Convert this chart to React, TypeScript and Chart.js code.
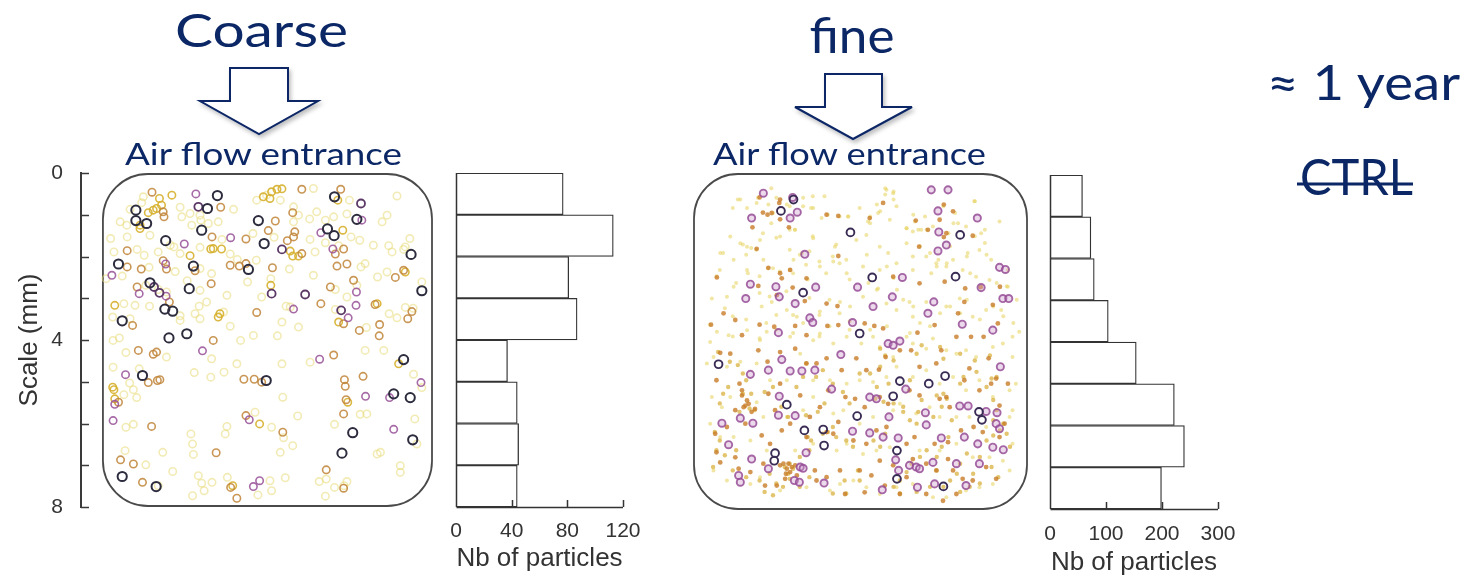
import React, { useEffect, useRef } from 'react';
import { Chart, registerables } from 'chart.js';

Chart.register(...registerables);
Chart.defaults.font.family = "'Liberation Sans', Arial, sans-serif";

// ---------------- data ----------------
const binLabels = ['0-1', '1-2', '2-3', '3-4', '4-5', '5-6', '6-7', '7-8'];
const coarseCounts = [77, 113, 81, 87, 37, 44, 45, 44];
const fineCounts = [58, 73, 79, 104, 154, 222, 240, 199];
const coarseTicks = [0, 40, 80, 120];
const fineTicks = [0, 100, 200, 300];
const depthLabels = [0, 4, 8];
const depthTicks = [0, 1, 2, 3, 4, 5, 6, 7, 8];

// coarse particles, [x mm, depth mm]
const coarseDark = [
  [2.79, 0.54], [2.55, 0.85], [0.82, 0.89], [5.62, 0.57], [0.82, 1.14], [1.08, 1.21], [2.41, 1.37], [1.54, 1.62],
  [3.92, 1.69], [5.45, 1.34], [5.61, 1.5], [7.47, 1.95], [0.4, 2.18], [2.21, 2.23], [3.54, 2.31], [7.73, 2.82],
  [1.16, 2.63], [2.11, 2.77], [1.52, 3.26], [1.71, 3.31], [0.49, 3.54], [1.62, 3.95], [2.05, 3.85], [0.98, 4.85],
  [3.97, 4.97], [7.29, 4.47], [7.05, 5.29], [7.45, 5.38], [6.06, 6.22], [7.51, 6.39], [5.8, 6.71], [0.49, 7.27],
  [1.31, 7.51], [6.16, 1.11], [3.78, 1.14],
];
const coarsePlum = [
  [2.33, 0.81], [6.26, 0.73], [4.35, 1.83], [4.1, 2.89], [4.91, 2.91], [5.78, 3.29], [1.26, 2.73], [1.39, 2.87],
];
const coarsePurple = [
  [2.27, 0.5], [6.28, 1.13], [1.99, 1.7], [3.11, 1.55], [5.29, 1.43], [5.58, 1.82], [0.24, 2.45], [1.54, 2.18],
  [0.9, 2.89], [1.55, 2.95], [4.63, 3.26], [5.95, 3.47], [6.14, 3.17], [6.15, 2.85], [0.57, 4.83], [2.43, 4.26],
  [5.26, 4.46], [7.71, 5.02], [0.31, 5.54], [6.37, 5.35], [6.95, 5.38], [7.05, 6.14], [3.56, 5.91], [0.27, 5.93],
  [3.66, 7.51], [3.81, 7.37],
];
const coarseBrown = [
  [1.21, 0.46], [1.48, 0.93], [1.5, 1.05], [2.87, 0.82], [4.61, 0.95], [4.83, 0.39], [5.77, 0.39], [4.19, 1.15],
  [2.66, 1.53], [3.48, 1.58], [4.02, 1.38], [4.48, 1.62], [4.63, 1.53], [4.66, 1.41], [0.61, 1.86], [4.83, 1.93],
  [5.64, 1.94], [5.84, 1.82], [0.61, 2.25], [0.95, 2.3], [1.48, 2.1], [1.56, 2.3], [2.25, 2.34], [3.1, 2.21],
  [3.32, 2.23], [3.48, 2.17], [4.12, 2.27], [5.68, 2.23], [5.92, 2.18], [6.08, 2.57], [7.09, 2.5], [7.29, 2.33],
  [1.63, 3.09], [0.85, 2.73], [2.64, 2.65], [5.52, 2.73], [3.74, 3.34], [5.29, 3.13], [6.6, 3.15], [7.49, 3.32],
  [7.39, 3.49], [6.22, 3.77], [6.71, 3.63], [6.7, 3.9], [0.74, 3.65], [0.88, 4.25], [1.24, 4.34], [1.32, 4.29],
  [2.69, 4.01], [5.84, 3.61], [5.6, 4.36], [1.12, 5.02], [1.34, 4.97], [1.4, 4.95], [3.43, 4.94], [3.68, 4.94],
  [3.86, 5.01], [5.86, 4.95], [5.88, 5.11], [6.31, 4.87], [0.4, 5.49], [5.9, 5.43], [5.84, 5.77], [3.48, 5.81],
  [4.37, 6.21], [2.76, 6.7], [1.2, 6.07], [0.45, 6.87], [0.76, 6.97], [0.98, 7.41], [3.11, 7.53], [3.26, 7.79],
  [5.42, 7.11], [5.84, 7.55],
];
const coarseGold = [
  [1.39, 0.61], [1.69, 0.53], [1.12, 0.95], [1.24, 0.89], [1.32, 0.85], [1.44, 0.77], [3.9, 0.57], [4.1, 0.45],
  [4.23, 0.39], [4.35, 0.38], [4.06, 0.61], [5.7, 0.65], [0.92, 1.25], [0.92, 1.33], [5.82, 1.37], [2.13, 1.98],
  [2.63, 1.82], [2.69, 1.81], [2.89, 1.82], [4.55, 1.87], [4.61, 1.99], [4.75, 1.99], [4.08, 2.69], [2.85, 3.37],
  [2.81, 3.45], [6.65, 3.13], [0.26, 5.13], [0.29, 5.19], [0.31, 5.41], [5.94, 5.49], [7.17, 4.57], [3.81, 6.01],
  [3.16, 7.49], [5.72, 3.57], [0.31, 3.17], [7.33, 2.37],
];
const coarseLight = [
  [1.0, 0.57], [0.68, 0.87], [0.96, 0.71], [1.89, 0.82], [1.93, 1.05], [2.13, 0.97], [2.17, 1.25], [2.37, 1.01],
  [2.39, 1.13], [2.57, 1.21], [2.81, 1.17], [3.18, 0.87], [3.74, 0.65], [3.98, 0.53], [4.31, 0.65], [5.11, 0.37],
  [4.63, 0.81], [4.75, 1.01], [5.98, 0.65], [7.13, 0.55], [6.89, 1.01], [6.77, 1.17], [5.92, 0.98], [5.6, 1.05],
  [5.4, 1.13], [5.02, 1.1], [4.63, 1.17], [5.19, 0.93], [0.44, 1.17], [0.6, 1.25], [0.21, 1.57], [0.61, 1.53],
  [1.16, 1.49], [1.74, 1.77], [2.9, 1.59], [3.65, 1.45], [4.16, 1.54], [5.03, 1.59], [6.02, 1.53], [6.23, 1.61],
  [6.56, 1.73], [6.93, 1.74], [7.33, 1.77], [7.44, 1.57], [7.29, 1.83], [7.01, 1.89], [0.29, 1.89], [0.85, 1.83],
  [1.02, 1.97], [1.36, 1.89], [1.65, 1.73], [1.89, 1.93], [2.37, 1.78], [3.1, 1.94], [3.27, 2.07], [5.15, 1.89],
  [5.4, 1.67], [5.72, 1.74], [0.49, 2.47], [0.1, 2.53], [1.14, 2.26], [1.77, 2.36], [2.37, 2.29], [2.65, 2.41],
  [3.73, 2.09], [4.08, 2.53], [4.53, 2.3], [5.11, 2.45], [6.26, 2.25], [6.36, 2.17], [6.66, 2.49], [6.89, 2.37],
  [7.73, 2.61], [1.06, 2.69], [1.36, 2.79], [1.56, 2.85], [2.06, 2.58], [2.37, 2.81], [3.02, 2.93], [3.52, 2.61],
  [3.86, 2.97], [5.64, 2.79], [6.16, 2.69], [5.92, 2.97], [0.53, 3.13], [0.8, 3.17], [1.15, 3.19], [1.89, 3.42],
  [2.25, 3.37], [2.35, 3.19], [2.53, 3.09], [2.94, 3.33], [3.1, 3.67], [4.45, 3.19], [4.55, 3.21], [5.64, 3.27],
  [6.94, 3.37], [7.13, 3.47], [7.33, 3.22], [7.52, 3.24], [6.39, 3.7], [0.26, 3.45], [0.68, 3.49], [0.27, 4.01],
  [0.42, 3.95], [0.58, 4.3], [1.56, 4.41], [1.89, 3.53], [2.37, 3.49], [3.35, 4.01], [3.66, 3.89], [4.24, 3.9],
  [4.35, 3.57], [4.75, 3.69], [6.81, 4.25], [6.36, 4.25], [0.27, 4.65], [0.67, 5.03], [0.9, 4.69], [2.23, 4.78],
  [2.65, 4.45], [2.63, 4.89], [2.95, 4.77], [3.26, 4.57], [4.35, 4.57], [5.03, 4.53], [7.53, 4.82], [7.73, 5.14],
  [0.53, 5.31], [0.76, 5.19], [0.84, 5.38], [6.24, 5.78], [6.4, 5.77], [7.56, 5.89], [5.62, 6.02], [4.37, 5.37],
  [4.73, 5.82], [4.39, 6.34], [4.61, 6.53], [4.31, 6.69], [4.1, 6.09], [3.7, 5.73], [3.02, 6.07], [2.98, 6.25],
  [2.15, 6.25], [2.19, 6.49], [2.21, 6.74], [1.47, 6.69], [0.58, 6.09], [0.76, 6.02], [0.56, 6.65], [1.06, 6.99],
  [1.71, 7.15], [6.65, 6.73], [6.73, 6.69], [7.21, 7.01], [7.21, 7.17], [7.61, 6.49], [1.36, 7.49], [2.33, 7.25],
  [2.41, 7.43], [2.47, 7.61], [2.19, 7.73], [2.66, 7.41], [3.03, 7.29], [3.77, 7.71], [4.06, 7.37], [4.1, 7.61],
  [4.43, 7.3], [5.25, 7.39], [5.42, 7.33], [5.62, 7.53], [5.92, 7.39], [5.4, 7.74], [5.85, 7.49],
];

// fine particles, [x mm, depth mm]
const fineDark = [
  [2.4, 0.63], [2.1, 0.9], [3.76, 1.41], [6.38, 1.47], [4.28, 2.48], [6.27, 2.46], [2.63, 2.84], [3.98, 3.81],
  [0.61, 4.54], [6.02, 4.82], [5.63, 5.0], [4.94, 4.94], [2.24, 5.5], [4.78, 5.3], [3.92, 5.77], [6.83, 5.67],
  [6.9, 5.86], [2.66, 6.11], [3.11, 6.09], [1.96, 6.65], [1.94, 6.83], [3.13, 6.47], [4.87, 6.59], [5.98, 7.44],
  [4.87, 7.26],
];
const finePurple = [
  [1.68, 0.48], [2.38, 0.58], [2.49, 0.93], [1.4, 1.07], [2.32, 1.07], [5.69, 0.4], [6.09, 0.4], [5.85, 0.9],
  [6.79, 1.07], [5.87, 1.4], [6.05, 1.71], [5.85, 1.85], [2.67, 1.93], [5.0, 2.48], [1.37, 2.64], [1.98, 2.7],
  [2.93, 2.71], [6.88, 2.72], [1.26, 2.98], [2.06, 2.94], [2.44, 3.1], [4.76, 2.94], [3.93, 2.71], [4.3, 3.17],
  [5.75, 3.06], [7.32, 2.24], [7.46, 2.29], [7.4, 2.98], [7.54, 2.98], [2.79, 3.44], [2.86, 3.55], [3.81, 3.55],
  [5.61, 3.33], [6.43, 3.59], [7.16, 3.73], [2.04, 3.79], [4.66, 4.05], [4.78, 4.09], [4.94, 3.99], [1.37, 4.78],
  [2.12, 4.43], [3.53, 4.31], [1.8, 4.68], [2.32, 4.7], [2.6, 4.7], [2.91, 4.68], [7.34, 4.6], [5.08, 5.13],
  [3.31, 5.13], [2.06, 5.3], [4.22, 5.32], [4.38, 5.36], [2.44, 5.76], [2.04, 5.75], [1.13, 5.82], [0.69, 5.94],
  [1.43, 5.94], [4.68, 5.79], [5.55, 5.69], [6.37, 5.53], [6.57, 5.53], [7.0, 5.66], [7.26, 5.69], [7.24, 5.95],
  [7.32, 6.07], [3.81, 6.13], [4.22, 6.17], [5.57, 5.98], [5.93, 6.29], [6.48, 6.27], [6.8, 6.43], [0.85, 6.45],
  [2.7, 6.64], [4.9, 6.29], [4.84, 6.81], [4.54, 6.27], [5.17, 6.94], [4.91, 7.06], [5.33, 6.98], [5.73, 6.87],
  [5.41, 7.02], [5.77, 7.38], [6.29, 6.9], [6.52, 7.42], [6.84, 6.9], [7.16, 6.51], [7.41, 6.57], [1.09, 7.18],
  [1.13, 7.34], [2.56, 6.98], [2.63, 7.01], [2.42, 7.3], [2.54, 7.34], [3.13, 7.36], [4.52, 7.52], [5.36, 7.46],
  [1.4, 6.79], [1.8, 7.02],
];
const fineOrange = [
  [1.59, 0.58], [2.08, 0.63], [2.06, 0.71], [1.88, 0.95], [1.67, 0.94], [1.78, 0.99], [2.08, 1.1], [1.42, 1.29],
  [2.29, 1.29], [3.19, 0.99], [3.47, 1.02], [4.22, 1.07], [4.54, 0.71], [5.99, 0.75], [6.21, 0.91], [5.89, 1.11],
  [5.32, 1.13], [5.99, 1.52], [6.05, 1.43], [5.4, 1.75], [5.61, 1.35], [6.68, 1.49], [1.52, 1.8], [1.8, 2.25],
  [2.08, 2.38], [2.32, 2.3], [2.12, 2.5], [2.71, 2.5], [3.47, 1.97], [0.57, 2.48], [1.56, 2.68], [2.0, 2.9],
  [2.38, 2.72], [2.67, 3.04], [3.19, 3.1], [3.45, 3.16], [4.78, 2.46], [5.41, 2.62], [6.01, 2.58], [6.5, 2.74],
  [6.87, 2.71], [7.16, 3.13], [7.33, 2.7], [6.48, 3.06], [0.43, 3.6], [0.73, 3.33], [1.01, 3.49], [1.59, 3.6],
  [1.94, 3.65], [2.44, 3.63], [2.71, 3.85], [3.21, 3.63], [3.47, 3.61], [4.1, 3.57], [4.33, 3.63], [4.54, 3.69],
  [5.36, 3.79], [5.77, 3.61], [6.33, 3.33], [6.64, 3.89], [6.94, 3.89], [7.28, 3.57], [0.65, 4.27], [0.89, 4.29],
  [1.17, 3.85], [1.56, 4.21], [1.78, 4.48], [2.08, 4.25], [2.44, 4.17], [2.71, 4.52], [2.95, 4.52], [3.19, 4.4],
  [3.55, 4.68], [3.9, 4.4], [4.14, 4.68], [4.44, 4.67], [4.6, 4.37], [4.94, 4.21], [5.21, 4.21], [5.41, 4.6],
  [5.81, 4.52], [5.93, 4.21], [6.29, 3.89], [6.6, 4.64], [7.06, 4.4], [7.12, 5.0], [7.24, 4.88], [7.52, 5.0],
  [0.56, 4.92], [1.11, 5.0], [1.17, 5.28], [1.29, 5.4], [1.25, 5.52], [1.4, 5.67], [1.48, 5.6], [1.01, 5.63],
  [1.8, 5.24], [1.96, 5.63], [2.08, 5.0], [2.56, 5.28], [3.03, 5.56], [3.23, 5.16], [3.64, 5.32], [3.87, 5.36],
  [4.1, 5.56], [4.46, 5.32], [4.66, 5.48], [5.17, 5.16], [5.41, 5.28], [5.89, 5.36], [6.05, 5.32], [6.13, 5.56],
  [6.48, 4.92], [6.84, 5.16], [7.32, 5.52], [7.44, 5.95], [0.53, 6.19], [0.81, 6.03], [1.25, 5.95], [1.64, 6.23],
  [1.84, 6.43], [2.12, 6.11], [2.32, 5.95], [2.71, 6.27], [2.79, 5.79], [3.19, 6.15], [3.35, 6.19], [3.47, 5.91],
  [3.83, 6.35], [4.14, 6.43], [4.38, 6.11], [4.62, 6.03], [5.1, 6.43], [5.29, 6.27], [5.77, 6.43], [6.09, 6.39],
  [6.4, 6.11], [6.7, 6.03], [6.92, 6.15], [7.32, 6.27], [0.56, 6.63], [0.65, 6.87], [1.01, 6.75], [1.09, 7.02],
  [1.37, 7.1], [1.68, 6.9], [2.08, 6.94], [2.24, 7.02], [2.32, 7.1], [2.44, 6.94], [2.2, 7.26], [2.48, 7.18],
  [2.91, 7.06], [3.19, 7.22], [3.51, 7.06], [3.98, 7.06], [4.26, 7.18], [4.46, 6.83], [4.78, 6.94], [5.1, 7.22],
  [5.25, 6.79], [5.57, 6.9], [5.81, 7.06], [6.09, 6.79], [6.21, 7.06], [6.44, 7.26], [6.68, 7.3], [7.0, 6.98],
  [7.24, 7.26], [1.72, 7.42], [2.0, 7.42], [2.95, 7.3], [3.63, 7.62], [4.1, 7.58], [4.58, 7.42], [4.94, 7.62],
  [5.57, 7.62], [5.97, 7.78], [6.29, 7.62], [2.16, 6.9], [2.28, 6.9], [2.36, 6.98], [2.22, 7.14], [1.21, 5.56],
  [1.33, 5.48], [1.17, 5.16],
];
const fineGold = [
  [0.6, 4.25], [0.88, 4.48], [1.07, 4.56], [1.19, 4.76], [1.27, 4.92], [1.19, 5.24], [1.39, 5.24], [1.35, 5.59],
  [1.47, 5.63], [1.11, 5.67], [0.84, 5.08], [0.72, 5.24], [0.64, 5.47], [0.52, 6.15], [0.64, 6.35], [1.03, 6.58],
  [0.76, 6.7], [0.56, 6.58], [0.48, 6.98], [0.95, 7.06], [1.27, 7.22], [1.59, 7.3], [1.71, 7.57], [1.91, 7.65],
  [2.19, 6.98], [2.31, 6.9], [2.39, 7.02], [2.27, 7.14], [2.31, 7.26], [2.55, 6.74], [2.78, 6.58], [2.82, 6.35],
  [2.74, 6.27], [3.1, 6.19], [3.22, 6.15], [3.34, 6.03], [3.42, 6.27], [3.66, 6.35], [3.82, 6.5], [3.94, 7.06],
  [3.98, 7.3], [3.62, 7.3], [3.66, 7.61], [3.34, 7.61], [2.78, 7.22], [2.55, 7.45], [2.15, 7.45], [1.99, 7.37],
  [1.83, 7.14], [1.71, 5.2], [1.91, 5.08], [2.11, 5.55], [2.27, 5.79], [2.47, 5.08], [2.63, 4.84], [2.7, 4.52],
  [2.94, 4.84], [3.1, 4.68], [3.34, 5.0], [3.58, 5.2], [3.74, 5.47], [3.98, 4.76], [2.7, 5.75], [2.98, 5.67],
  [3.14, 5.47], [4.47, 4.17], [4.59, 4.33], [4.79, 4.45], [4.47, 4.6], [4.23, 4.76], [4.39, 5.08], [4.35, 5.36],
  [4.55, 5.43], [4.79, 5.47], [5.02, 5.55], [5.02, 5.67], [5.18, 5.87], [5.34, 5.95], [5.38, 5.67], [5.46, 5.39],
  [5.82, 5.28], [5.98, 5.24], [6.06, 5.36], [5.94, 5.55], [6.18, 5.87], [6.1, 6.27], [5.94, 6.5], [5.58, 6.58],
  [5.42, 6.74], [5.22, 6.9], [5.1, 7.1], [4.94, 7.3], [4.79, 7.45], [4.47, 6.5], [4.31, 6.35], [4.59, 6.19],
  [5.82, 6.74], [5.82, 7.06], [6.14, 7.3], [6.3, 7.14], [6.38, 6.9], [6.69, 7.14], [6.61, 7.45], [6.85, 7.37],
  [7.01, 6.35], [7.17, 6.23], [7.33, 6.11], [7.41, 5.95], [7.25, 5.63], [7.17, 5.39], [7.01, 5.08], [7.13, 4.88],
  [7.25, 4.84], [6.77, 4.72], [6.38, 5.0], [6.46, 4.84], [6.73, 4.45], [7.09, 4.33], [6.38, 4.29], [5.98, 4.41],
  [5.9, 4.13], [5.46, 4.09], [5.34, 4.29], [5.18, 4.92], [4.67, 5.0], [5.74, 5.79], [6.54, 6.66], [6.85, 6.74],
  [7.13, 6.98], [7.29, 7.22], [7.57, 6.5], [7.49, 6.19], [7.17, 5.87], [5.66, 7.45], [5.34, 7.57], [4.94, 7.61],
  [6.38, 7.57], [5.98, 7.45],
];
const fineYellow = [
  [1.13, 0.63], [1.29, 0.83], [1.52, 0.71], [1.8, 0.75], [2.24, 0.75], [2.63, 0.79], [2.87, 0.83], [3.07, 1.07],
  [3.71, 1.03], [3.98, 0.83], [4.18, 1.15], [4.42, 0.95], [4.62, 0.4], [4.78, 0.48], [4.86, 0.79], [4.7, 1.11],
  [5.1, 1.31], [5.25, 1.39], [5.45, 1.35], [5.73, 1.27], [6.33, 1.19], [6.52, 1.27], [6.72, 0.67], [6.88, 1.43],
  [7.32, 1.15], [0.89, 1.51], [1.13, 1.67], [1.29, 1.75], [1.6, 1.59], [2.08, 1.51], [2.44, 1.35], [2.87, 1.55],
  [3.39, 1.75], [3.9, 1.59], [4.14, 1.47], [4.46, 1.75], [4.66, 1.9], [5.1, 1.67], [5.25, 1.98], [5.57, 1.98],
  [5.81, 2.14], [6.21, 2.06], [6.56, 1.9], [6.84, 1.83], [7.12, 2.06], [7.52, 2.3], [0.65, 1.9], [0.97, 2.06],
  [1.29, 2.3], [1.68, 2.06], [2.4, 2.06], [2.6, 1.9], [3.03, 2.22], [3.35, 2.1], [3.67, 2.38], [4.06, 2.22],
  [4.46, 2.3], [4.86, 2.14], [5.25, 2.3], [5.69, 2.38], [6.05, 2.22], [6.44, 2.3], [6.76, 2.46], [7.08, 2.54],
  [7.52, 2.7], [0.45, 2.98], [0.81, 2.94], [0.97, 2.7], [1.64, 3.17], [1.88, 3.06], [2.24, 3.25], [2.48, 3.41],
  [3.03, 3.29], [3.51, 3.06], [3.75, 3.17], [4.06, 2.94], [4.42, 2.74], [4.62, 3.1], [4.86, 3.25], [5.17, 3.06],
  [5.25, 3.41], [5.57, 3.06], [6.05, 3.17], [6.37, 2.98], [6.68, 3.41], [7.0, 3.25], [7.36, 3.25], [7.63, 3.89],
  [7.79, 3.77], [0.41, 4.01], [0.57, 3.77], [0.85, 3.85], [1.29, 3.73], [1.6, 3.97], [1.76, 3.77], [2.32, 3.89],
  [2.87, 3.97], [3.03, 3.81], [3.35, 4.05], [3.67, 3.89], [4.02, 4.05], [4.3, 3.89], [4.46, 4.13], [4.78, 4.37],
  [5.1, 3.89], [5.25, 4.05], [5.57, 4.17], [5.73, 3.93], [6.05, 4.21], [6.29, 4.29], [6.52, 4.21], [6.76, 4.37],
  [7.16, 4.13], [7.4, 4.05], [7.63, 4.37], [0.33, 4.52], [0.49, 4.37], [0.81, 4.6], [1.13, 4.48], [1.52, 4.52],
  [1.84, 4.92], [2.24, 4.92], [2.56, 4.29], [2.87, 4.92], [3.27, 4.92], [3.67, 5.0], [3.98, 4.92], [4.3, 4.96],
  [4.62, 4.84], [4.86, 4.6], [5.25, 4.84], [5.57, 4.68], [5.89, 5.0], [6.21, 4.84], [6.52, 5.16], [6.84, 4.92],
  [7.16, 5.32], [7.56, 5.16], [7.71, 5.0], [0.45, 5.32], [0.69, 5.56], [0.89, 5.32], [1.52, 5.44], [1.68, 5.79],
  [2.24, 5.79], [2.63, 5.63], [2.87, 5.32], [3.35, 5.71], [3.59, 5.63], [3.98, 5.95], [4.3, 5.79], [4.78, 5.63],
  [4.94, 5.48], [5.33, 5.71], [5.65, 5.56], [5.89, 5.79], [6.29, 5.79], [6.6, 5.79], [7.0, 6.03], [7.56, 5.79],
  [7.63, 5.63], [0.41, 5.95], [0.65, 6.27], [0.97, 6.27], [1.37, 6.35], [1.76, 6.59], [2.44, 6.59], [2.87, 6.43],
  [3.43, 6.59], [3.67, 6.43], [4.06, 6.67], [4.38, 6.59], [4.7, 6.51], [5.41, 6.59], [5.89, 6.59], [6.29, 6.43],
  [6.68, 6.75], [7.08, 6.75], [7.4, 6.83], [7.63, 6.43], [0.49, 7.06], [0.81, 7.3], [1.37, 7.38], [1.6, 7.22],
  [2.08, 7.54], [2.71, 7.46], [3.27, 7.54], [3.51, 7.38], [3.83, 7.3], [4.14, 7.46], [4.46, 7.62], [4.86, 7.46],
  [5.25, 7.38], [5.73, 7.7], [6.05, 7.7], [6.52, 7.54], [6.84, 7.46], [7.16, 7.38], [7.56, 7.06],
  [1.07, 0.63], [0.95, 0.83], [1.87, 0.36], [1.55, 0.59], [1.99, 0.59], [2.31, 0.79], [2.63, 0.59], [2.86, 0.55],
  [3.14, 0.55], [2.82, 0.83], [3.22, 0.99], [3.5, 1.03], [3.7, 1.03], [1.91, 0.95], [1.87, 1.19], [2.31, 1.35],
  [2.43, 1.35], [1.67, 1.43], [1.99, 1.54], [2.86, 1.5], [1.19, 1.7], [1.39, 1.78], [1.51, 1.82], [1.27, 1.94],
  [2.31, 1.82], [2.55, 1.94], [2.78, 1.86], [3.42, 1.7], [3.34, 1.98], [0.72, 1.9], [0.64, 2.3], [0.56, 2.45],
  [1.03, 2.61], [1.31, 2.38], [1.59, 2.45], [1.79, 2.26], [1.91, 2.26], [2.07, 2.34], [2.31, 2.3], [2.39, 2.38],
  [2.7, 2.18], [2.74, 2.53], [3.02, 2.1], [3.18, 2.38], [3.5, 2.14], [3.66, 2.06], [3.74, 2.53], [1.59, 2.85],
  [1.83, 2.93], [2.23, 2.81], [2.78, 2.97], [3.26, 3.01], [0.76, 3.21], [0.95, 3.4], [1.27, 3.48], [1.75, 3.56],
  [1.99, 3.37], [2.39, 3.37], [2.63, 3.56], [3.02, 3.37], [3.26, 3.64], [3.5, 3.33], [3.74, 3.52], [0.4, 3.6],
  [0.95, 3.88], [1.59, 3.92], [1.99, 3.72], [2.39, 3.8], [3.02, 3.88], [3.74, 3.72], [4.59, 0.36], [4.59, 0.51],
  [4.79, 0.44], [4.79, 0.63], [4.39, 0.75], [4.47, 0.91], [4.23, 1.03], [4.23, 1.19], [5.26, 0.99], [5.54, 1.03],
  [5.3, 1.15], [5.1, 1.31], [5.38, 1.35], [5.58, 1.35], [5.42, 1.74], [5.66, 1.9], [5.98, 0.79], [6.26, 0.95],
  [6.22, 1.19], [6.1, 1.43], [6.14, 1.74], [5.86, 2.06], [6.06, 2.14], [5.82, 2.22], [6.54, 1.98], [6.73, 1.5],
  [6.97, 1.66], [6.73, 0.67], [6.97, 1.35], [7.01, 1.94], [4.15, 1.94], [4.63, 2.22], [4.79, 2.49], [4.19, 2.61],
  [4.39, 2.77], [4.87, 2.77], [5.02, 3.01], [5.26, 3.17], [5.42, 3.56], [5.66, 3.64], [5.9, 3.33], [6.14, 3.17],
  [6.38, 3.33], [6.54, 3.01], [6.62, 2.38], [6.85, 3.48], [7.17, 3.17], [7.41, 3.4], [7.65, 3.56], [7.73, 3.01],
  [7.49, 2.69], [7.25, 2.61], [4.23, 3.72], [4.63, 3.64], [5.18, 3.8],
];

// ---------------- styling helpers ----------------
const NAVY = '#0b2766';
const AXIS = '#333333';
const TITLE_FONT = "Lato, 'Open Sans', sans-serif";

const pts = (a: number[][]) => a.map(([x, y]) => ({ x, y }));
const ring = (data: number[][], color: string, r: number, w: number, fill = 'rgba(0,0,0,0)') => ({
  data: pts(data),
  pointRadius: r,
  pointHoverRadius: r,
  pointBorderWidth: w,
  pointBorderColor: color,
  pointBackgroundColor: fill,
  showLine: false,
});
const dot = (data: number[][], color: string, r: number) => ({
  data: pts(data),
  pointRadius: r,
  pointHoverRadius: r,
  pointBorderWidth: 0,
  pointBorderColor: color,
  pointBackgroundColor: color,
  showLine: false,
});

const boxPlugin = (radius: number) => ({
  id: 'roundBox',
  beforeDatasetsDraw(chart: any) {
    const { ctx, scales } = chart;
    const x0 = scales.x.getPixelForValue(0);
    const x1 = scales.x.getPixelForValue(8);
    const y0 = scales.y.getPixelForValue(0);
    const y1 = scales.y.getPixelForValue(8);
    ctx.save();
    ctx.beginPath();
    ctx.roundRect(x0 + 1, y0 + 1, x1 - x0 - 2, y1 - y0 - 2, radius);
    ctx.lineWidth = 1.8;
    ctx.strokeStyle = '#4a4a4a';
    ctx.stroke();
    ctx.restore();
  },
});

// depth axis: vertical line with inward tick marks, placed through the y scale
const depthAxisPlugin = {
  id: 'depthAxis',
  afterDraw(chart: any) {
    const { ctx } = chart;
    const y = chart.scales.y;
    const x = chart.scales.x;
    const ax = Math.round(x.getPixelForValue(x.min)) + 1;
    const top = y.getPixelForValue(0);
    const bottom = y.getPixelForValue(8);
    ctx.save();
    ctx.strokeStyle = '#3a3a3a';
    ctx.lineWidth = 2;
    ctx.lineCap = 'butt';
    ctx.beginPath();
    ctx.moveTo(ax, top - 1);
    ctx.lineTo(ax, bottom + 1);
    ctx.stroke();
    ctx.lineWidth = 1.6;
    ctx.beginPath();
    depthTicks.forEach((v) => {
      const py = Math.round(y.getPixelForValue(v)) + 0.5;
      ctx.moveTo(ax, py);
      ctx.lineTo(ax + 8, py);
    });
    ctx.stroke();
    ctx.restore();
  },
};

const xInwardTicks = {
  id: 'xInward',
  afterDatasetsDraw(chart: any) {
    const { ctx, chartArea } = chart;
    const x = chart.scales.x;
    ctx.save();
    ctx.strokeStyle = AXIS;
    ctx.lineWidth = 1.5;
    ctx.beginPath();
    x.ticks.forEach((t: any) => {
      if (t.value === 0) return;
      const px = Math.round(x.getPixelForValue(t.value)) + 0.5;
      ctx.moveTo(px, chartArea.bottom);
      ctx.lineTo(px, chartArea.bottom - 7);
    });
    const p0 = Math.round(x.getPixelForValue(0)) + 0.5;
    ctx.moveTo(p0, chartArea.top);
    ctx.lineTo(p0, chartArea.bottom);
    ctx.moveTo(p0, chartArea.bottom + 0.5);
    ctx.lineTo(x.getPixelForValue(x.max), chartArea.bottom + 0.5);
    ctx.stroke();
    ctx.restore();
  },
};

const common = {
  responsive: false,
  animation: false,
  devicePixelRatio: 1,
  events: [],
  plugins: { legend: { display: false }, tooltip: { enabled: false } },
};

function coarseScatterConfig(): any {
  return {
    type: 'scatter',
    data: {
      datasets: [
        ring(coarseDark, '#2c2c3e', 4.6, 2),
        ring(coarsePlum, '#5b3866', 4, 1.8),
        ring(coarsePurple, 'rgba(150,80,150,0.85)', 3.7, 1.6),
        ring(coarseBrown, 'rgba(192,132,55,0.85)', 3.7, 1.6),
        ring(coarseGold, 'rgba(214,176,45,0.9)', 3.7, 1.6),
        ring(coarseLight, 'rgba(232,218,120,0.55)', 3.7, 1.6),
      ],
    },
    options: {
      ...common,
      layout: { padding: { left: 0, right: 12, top: 31, bottom: 31 } },
      scales: {
        x: { type: 'linear', display: false, min: -0.53, max: 8 },
        y: {
          type: 'linear',
          min: 0,
          max: 8,
          reverse: true,
          afterFit: (s: any) => { s.width = 80; },
          border: { display: false },
          grid: { display: false, drawTicks: false },
          ticks: {
            stepSize: 1,
            padding: 17,
            color: AXIS,
            font: { size: 21 },
            callback: (v: number) => (depthLabels.includes(v) ? String(v) : ''),
          },
          title: {
            display: true,
            text: 'Scale (mm)',
            color: AXIS,
            font: { size: 26 },
            padding: { top: 14, bottom: 0 },
          },
        },
      },
    },
    plugins: [boxPlugin(45), depthAxisPlugin],
  };
}

function fineScatterConfig(): any {
  return {
    type: 'scatter',
    data: {
      datasets: [
        ring(fineDark, '#3a2c55', 3.9, 1.9),
        ring(finePurple, 'rgba(150,78,150,0.85)', 3.6, 1.9, 'rgba(200,150,200,0.35)'),
        dot(fineOrange, 'rgba(200,125,40,0.8)', 2.4),
        dot(fineGold, 'rgba(215,172,50,0.7)', 2.2),
        dot(fineYellow, 'rgba(230,210,90,0.55)', 2.0),
      ],
    },
    options: {
      ...common,
      layout: { padding: { left: 13, right: 12, top: 23, bottom: 20 } },
      scales: {
        x: { type: 'linear', display: false, min: 0, max: 8 },
        y: { type: 'linear', display: false, min: 0, max: 8, reverse: true },
      },
    },
    plugins: [boxPlugin(44)],
  };
}

function histConfig(counts: number[], ticks: number[], pad: any, axisH: number, labelPad: number, titlePad: number): any {
  const max = ticks[ticks.length - 1];
  return {
    type: 'bar',
    data: {
      labels: binLabels,
      datasets: [
        {
          data: counts,
          backgroundColor: '#ffffff',
          borderColor: AXIS,
          borderWidth: 1.3,
          borderSkipped: false,
          categoryPercentage: 1,
          barPercentage: 1,
        },
      ],
    },
    options: {
      ...common,
      indexAxis: 'y',
      layout: { padding: pad },
      scales: {
        y: { display: false },
        x: {
          type: 'linear',
          min: 0,
          max,
          afterFit: (s: any) => { s.height = axisH; },
          afterBuildTicks: (s: any) => { s.ticks = ticks.map((v) => ({ value: v })); },
          border: { display: false },
          grid: { display: false, drawTicks: false },
          ticks: { padding: labelPad, color: AXIS, font: { size: 21 } },
          title: {
            display: true,
            text: 'Nb of particles',
            color: AXIS,
            font: { size: 26 },
            padding: { top: 0, bottom: titlePad },
          },
        },
      },
    },
    plugins: [xInwardTicks],
  };
}

function ChartBox(props: { left: number; top: number; width: number; height: number; make: () => any }) {
  const ref = useRef<HTMLCanvasElement | null>(null);
  useEffect(() => {
    const chart = new Chart(ref.current as HTMLCanvasElement, props.make());
    return () => chart.destroy();
  }, []);
  return (
    <canvas
      ref={ref}
      width={props.width}
      height={props.height}
      style={{ position: 'absolute', left: props.left, top: props.top, width: props.width, height: props.height }}
    />
  );
}

export default function App() {
  return (
    <div style={{ position: 'absolute', left: 0, top: 0, width: 1474, height: 582, background: '#ffffff', overflow: 'hidden' }}>
      <ChartBox left={0} top={142} width={445} height={396} make={coarseScatterConfig} />
      <ChartBox
        left={434}
        top={150}
        width={226}
        height={432}
        make={() => histConfig(coarseCounts, coarseTicks, { left: 22, right: 37, top: 23, bottom: 0 }, 75, 12, 8)}
      />
      <ChartBox left={680} top={150} width={360} height={380} make={fineScatterConfig} />
      <ChartBox
        left={1028}
        top={150}
        width={232}
        height={432}
        make={() => histConfig(fineCounts, fineTicks, { left: 22, right: 42, top: 25, bottom: 0 }, 73, 13, 4)}
      />
      <svg width={1474} height={582} style={{ position: 'absolute', left: 0, top: 0, pointerEvents: 'none' }}>
        <defs>
          <filter id="sh" x="-20%" y="-20%" width="150%" height="150%">
            <feDropShadow dx="2" dy="3" stdDeviation="2" floodColor="#000" floodOpacity="0.25" />
          </filter>
        </defs>
        <g fill={NAVY} fontFamily={TITLE_FONT}>
          <text x={261.5} y={47} fontSize={46} textAnchor="middle" textLength={173} lengthAdjust="spacingAndGlyphs">Coarse</text>
          <text x={852} y={53} fontSize={48} textAnchor="middle" textLength={85} lengthAdjust="spacingAndGlyphs">fine</text>
          <text x={263.5} y={165} fontSize={30} textAnchor="middle" textLength={277} lengthAdjust="spacingAndGlyphs">Air flow entrance</text>
          <text x={849.5} y={165} fontSize={30} textAnchor="middle" textLength={273} lengthAdjust="spacingAndGlyphs">Air flow entrance</text>
          <text x={1363.5} y={100} fontSize={48} textAnchor="middle" textLength={193} lengthAdjust="spacingAndGlyphs">≈ 1 year</text>
          <text x={1356.5} y={195} fontSize={50} textAnchor="middle" textLength={113} lengthAdjust="spacingAndGlyphs">CTRL</text>
        </g>
        <line x1={1297} y1={184} x2={1413} y2={184} stroke={NAVY} strokeWidth={3} />
        <g fill="#ffffff" stroke={NAVY} strokeWidth={2} filter="url(#sh)">
          <polygon points="230,68 288,68 288,101 318,101 259,134 200,101 230,101" />
          <polygon points="825,74 882,74 882,107 912,107 853,139 795,107 825,107" />
        </g>
      </svg>
    </div>
  );
}
